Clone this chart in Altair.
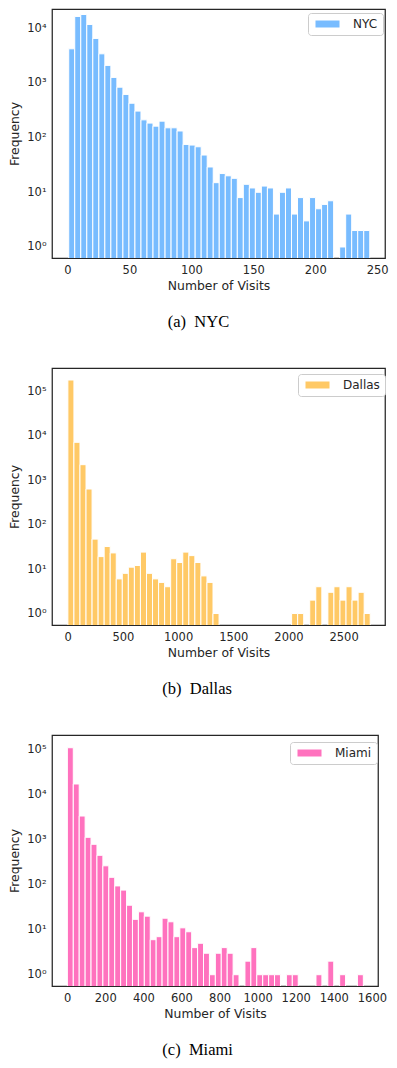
import altair as alt
import numpy as np
import pandas as pd

# ---------------- data ----------------
nyc_counts = [4200, 16400, 17800, 11700, 6500, 3400, 2090, 1260, 835, 615,
              425, 305, 211, 184, 162, 200, 151, 151, 132, 75,
              73, 68, 48, 29, 15, 22, 20, 18, 8, 14,
              12, 10, 13, 12, 4, 10, 12, 4, 8, 3,
              8, 5, 6, 7, 0, 1, 4, 2, 2, 2]
nyc_range = [1, 244]

dallas_counts = [176600, 7030, 2210, 628, 47, 19, 32, 23, 6, 8,
                 11, 12, 24, 8, 6, 5, 4, 17, 14, 24,
                 20, 14, 7, 5, 1, 0, 0, 0, 0, 0,
                 0, 0, 0, 0, 0, 0, 0, 1, 1, 0,
                 2, 4, 0, 3, 4, 2, 4, 2, 3, 1]
dallas_range = [1, 2741]

miami_counts = [110700, 17300, 3360, 1130, 790, 450, 263, 146, 94, 76,
                35, 17, 25, 20, 6, 7, 18, 15, 7, 11,
                9, 4, 5, 3, 1, 3, 4, 3, 1, 0,
                2, 4, 1, 1, 1, 1, 0, 1, 1, 0,
                0, 0, 1, 0, 2, 0, 1, 0, 0, 1]
miami_range = [1, 1555]

cities = ["NYC", "Dallas", "Miami"]
colors = ["#78BCFF", "#FFC966", "#FF72BE"]
captions = ["(a)\u2002NYC", "(b)\u2002Dallas", "(c)\u2002Miami"]

nyc_xticks = [0, 50, 100, 150, 200, 250]
dallas_xticks = [0, 500, 1000, 1500, 2000, 2500]
miami_xticks = [0, 200, 400, 600, 800, 1000, 1200, 1400, 1600]

nyc_yticks = [1, 10, 100, 1000, 10000]
dallas_yticks = [1, 10, 100, 1000, 10000, 100000]
miami_yticks = [1, 10, 100, 1000, 10000, 100000]

TEXT = "#262626"
SUP = "'10' + ['\u2070','\u00b9','\u00b2','\u00b3','\u2074','\u2075'][round(log(datum.value)/LN10)]"


def panel(city, counts, rng, color, caption, xdomain, ydomain, xticks, yticks,
          width, height, legend_x, legend_y):
    edges = np.linspace(rng[0], rng[1], len(counts) + 1)
    df = pd.DataFrame({
        "start": edges[:-1],
        "end": edges[1:],
        "count": counts,
        "city": city,
        "base": ydomain[0] / 2.0,
    })
    return alt.Chart(df).transform_filter("datum.count > 0").mark_bar(
        stroke="white", strokeWidth=1, opacity=1, clip=True
    ).encode(
        x=alt.X("start:Q",
                scale=alt.Scale(domain=xdomain, nice=False, zero=False),
                axis=alt.Axis(values=xticks, title="Number of Visits",
                              labelPadding=6, titlePadding=4, format="d")),
        x2="end:Q",
        y=alt.Y("count:Q",
                scale=alt.Scale(type="log", domain=ydomain, nice=False),
                axis=alt.Axis(values=yticks, title="Frequency", labelExpr=SUP,
                              labelPadding=6, titlePadding=5)),
        y2="base:Q",
        color=alt.Color("city:N",
                        scale=alt.Scale(domain=[city], range=[color]),
                        legend=alt.Legend(
                            title=None, orient="none",
                            legendX=legend_x, legendY=legend_y,
                            symbolType="M-3.43,-1H3.43V1H-3.43Z",
                            symbolSize=49, symbolOffset=8.5,
                            symbolStrokeWidth=0, symbolOpacity=1,
                            labelOffset=19.5, labelFontSize=12,
                            labelFont="DejaVu Sans", labelColor=TEXT,
                            padding=5, strokeColor="#cccccc",
                            cornerRadius=3, fillColor="white")),
    ).properties(
        width=width, height=height,
        title=alt.TitleParams(caption, orient="bottom", font="Liberation Serif",
                              fontSize=16.5, fontWeight="normal", color="black",
                              anchor="middle", frame="bounds", offset=22),
    )


p1 = panel("NYC", nyc_counts, nyc_range, colors[0], captions[0],
           [-12.5, 256.3], [0.629, 22440], nyc_xticks, nyc_yticks,
           333, 249, 256, 4)
p2 = panel("Dallas", dallas_counts, dallas_range, colors[1], captions[1],
           [-143, 2875], [0.552, 328800], dallas_xticks, dallas_yticks,
           333, 257, 246, 6)
p3 = panel("Miami", miami_counts, miami_range, colors[2], captions[2],
           [-79.7, 1632], [0.561, 212300], miami_xticks, miami_yticks,
           326, 251, 238, 7)

chart = alt.vconcat(p1, p2, p3, spacing=35).properties(
    padding=0, background="white"
).resolve_scale(color="independent").configure_view(
    stroke=TEXT, strokeWidth=1.25
).configure_axis(
    grid=False, ticks=False, tickSize=0, domain=False,
    labelFont="DejaVu Sans", labelFontSize=11.5, labelColor=TEXT,
    titleFont="DejaVu Sans", titleFontSize=12.4, titleFontWeight="normal",
    titleColor=TEXT
)

chart.save("out.html", embed_options={"renderer": "svg", "actions": False})
